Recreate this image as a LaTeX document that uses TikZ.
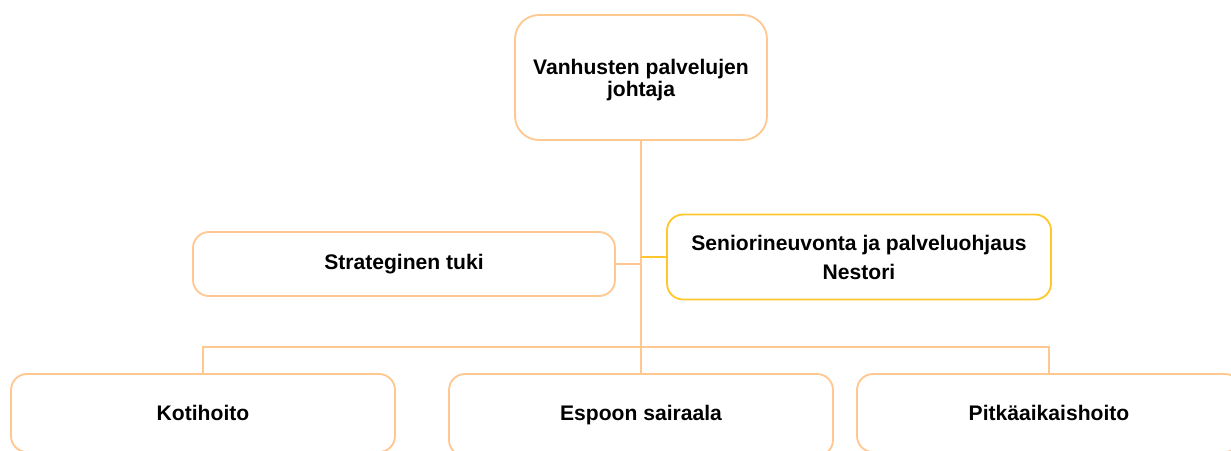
\documentclass[tikz,border=0pt]{standalone}
\usepackage{fontspec}
\setmainfont{Liberation Sans}
\usepackage{xcolor}
\usepackage{tikz}
\usetikzlibrary{calc}
\definecolor{peach}{HTML}{FFC890}
\definecolor{amber}{HTML}{FFC729}

\tikzset{
  unit/.style={draw=peach, line width=1.3pt, rounded corners=0.4cm, fill=white,
    inner sep=0pt, align=center, font=\fontsize{15}{15.6}\selectfont\bfseries},
  link/.style={draw=peach, line width=1.3pt}
}

\begin{document}
\begin{tikzpicture}[x=0.025cm, y=-0.025cm]
  \useasboundingbox (0,0) rectangle (1231,450);
  \clip (0,0) rectangle (1231,450);
  % johto
  \node[unit, rounded corners=0.6cm, minimum width=252*0.025cm, minimum height=125*0.025cm] (head) at (641,77.5) {\rule{0pt}{15pt}Vanhusten palvelujen\\johtaja};
  % tuki
  \node[unit, minimum width=422*0.025cm, minimum height=64*0.025cm] (tuki) at (404,264) {Strateginen tuki};
  \node[unit, draw=amber, minimum width=384*0.025cm, minimum height=85*0.025cm] (nestori) at (859,257) {Seniorineuvonta ja palveluohjaus\\[5pt]Nestori};
  % yksiköt
  \node[unit, minimum width=384*0.025cm, minimum height=78*0.025cm] (koti) at (203,413) {Kotihoito};
  \node[unit, minimum width=384*0.025cm, minimum height=82*0.025cm] (sairaala) at (641,415) {Espoon sairaala};
  \node[unit, minimum width=384*0.025cm, minimum height=78*0.025cm] (pitka) at (1049,413) {Pitkäaikaishoito};
  \coordinate (bus) at (641,347);
  \draw[link] (head.south) -- (bus);
  \draw[link] (tuki.east) -- (tuki.east -| head.south);
  \draw[link, draw=amber] (nestori.west) -- (nestori.west -| head.south);
  \draw[link] (koti.north) |- (bus) -| (pitka.north);
  \draw[link] (bus) -- (sairaala.north);
\end{tikzpicture}
\end{document}
